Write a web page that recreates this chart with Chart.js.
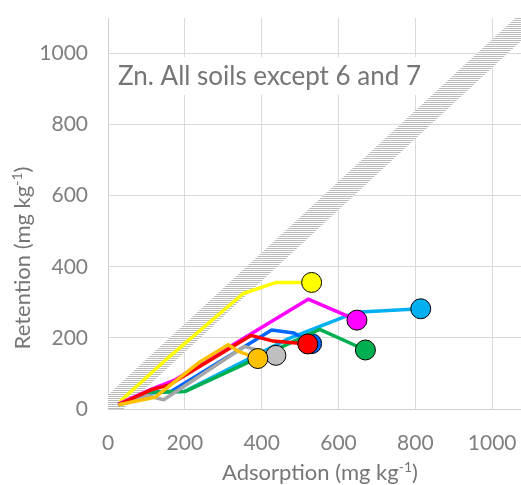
<!DOCTYPE html>
<html>
<head>
<meta charset="utf-8">
<script src="https://cdn.jsdelivr.net/npm/chart.js@4"></script>
<style>
  html, body { margin: 0; padding: 0; background: #fff; }
  #wrap { width: 521px; height: 485px; }
</style>
</head>
<body>
<div id="wrap"><canvas id="myChart" width="521" height="485"></canvas></div>
<script>
// x = adsorption, y = retention (mg kg-1), one pair of arrays per soil
const redX = [27, 115, 160, 372, 430, 520];
const redY = [12, 55, 68, 207, 191, 183];
const magentaX = [27, 112, 175, 521, 648];
const magentaY = [14, 55, 82, 309, 250];
const grayX = [27, 100, 145, 355, 437];
const grayY = [10, 38, 26, 176, 151];
const orangeX = [27, 122, 240, 313, 340, 390];
const orangeY = [12, 33, 133, 181, 162, 142];
const yellowX = [30, 150, 352, 438, 530];
const yellowY = [20, 138, 325, 356, 356];
const greenX = [27, 105, 200, 551, 670];
const greenY = [12, 47, 49, 224, 166];
const blueX = [27, 105, 165, 426, 484, 530];
const blueY = [12, 46, 50, 222, 214, 184];
const cyanX = [27, 105, 200, 470, 645, 814];
const cyanY = [12, 45, 50, 198, 272, 282];

// 1:1 band
const bandX = [0, 1100];
const bandUpper = [40, 1140];
const bandLower = [-40, 1060];

const xTicks = [0, 200, 400, 600, 800, 1000];
const yTicks = [0, 200, 400, 600, 800, 1000];

const chartTitle = "Zn. All soils except 6 and 7";

function pts(xs, ys) {
  return xs.map((x, i) => ({x: x, y: ys[i]}));
}

// hatch pattern for the band (thin horizontal lines)
const pc = document.createElement('canvas');
pc.width = 4; pc.height = 2;
const pctx = pc.getContext('2d');
pctx.fillStyle = '#ffffff';
pctx.fillRect(0, 0, 4, 2);
pctx.fillStyle = '#bababa';
pctx.fillRect(0, 0, 4, 1);
const hatch = pctx.createPattern(pc, 'repeat');

function series(xs, ys, line, marker) {
  const last = xs.length - 1;
  return {
    data: pts(xs, ys),
    borderColor: line,
    backgroundColor: marker || line,
    borderWidth: 3.5,
    borderJoinStyle: 'round',
    pointRadius: c => c.dataIndex === last ? 10 : 0,
    pointBorderColor: '#000',
    pointBorderWidth: 1,
    pointBackgroundColor: marker || line,
    fill: false,
    tension: 0,
    order: 0
  };
}

// no extra padding round the plot
function noPad(s) {
  s.paddingTop = 0; s.paddingBottom = 0; s.paddingLeft = 0; s.paddingRight = 0;
}

// title box + axis titles with superscript
const textPlugin = {
  id: 'texts',
  beforeDatasetsDraw(chart) {
    const ctx = chart.ctx;
    ctx.save();
    ctx.fillStyle = '#fff';
    ctx.fillRect(109, 57, 322, 38);
    ctx.fillStyle = '#767676';
    ctx.font = '26px Lato';
    ctx.textBaseline = 'alphabetic';
    ctx.fillText(chartTitle, 118, 85);
    ctx.restore();
  },
  afterDraw(chart) {
    const ctx = chart.ctx;
    const draw = (main, cx, cy, rot) => {
      ctx.save();
      ctx.translate(cx, cy);
      ctx.rotate(rot);
      ctx.fillStyle = '#767676';
      ctx.textBaseline = 'alphabetic';
      ctx.font = '22px Lato';
      const w1 = ctx.measureText(main).width;
      const w3 = ctx.measureText(')').width;
      ctx.font = '14px Lato';
      const w2 = ctx.measureText('-1').width;
      let x = -(w1 + w2 + w3) / 2;
      ctx.font = '22px Lato';
      ctx.fillText(main, x, 0);
      x += w1;
      ctx.font = '14px Lato';
      ctx.fillText('-1', x, -8);
      x += w2;
      ctx.font = '22px Lato';
      ctx.fillText(')', x, 0);
      ctx.restore();
    };
    draw('Adsorption (mg kg', 320, 480, 0);
    draw('Retention (mg kg', 30, 258, -Math.PI / 2);
  }
};

const myChart = document.getElementById('myChart');

new Chart(myChart, {
  type: 'line',
  data: {
    datasets: [
      series(orangeX, orangeY, '#FFC000'),
      series(redX, redY, '#FF0000'),
      series(magentaX, magentaY, '#FF00FF'),
      series(grayX, grayY, '#A6A6A6', '#BFBFBF'),
      series(yellowX, yellowY, '#FFFF00'),
      series(greenX, greenY, '#00B050'),
      series(blueX, blueY, '#0066FF'),
      series(cyanX, cyanY, '#00B0F0'),
      {
        data: pts(bandX, bandUpper),
        borderWidth: 0,
        pointRadius: 0,
        backgroundColor: hatch,
        fill: '+1',
        order: 10
      },
      {
        data: pts(bandX, bandLower),
        borderWidth: 0,
        pointRadius: 0,
        fill: false,
        order: 11
      }
    ]
  },
  options: {
    responsive: false,
    animation: false,
    devicePixelRatio: 1,
    layout: { autoPadding: false, padding: { top: 18, right: 0, left: 0, bottom: 0 } },
    plugins: { legend: { display: false }, tooltip: { enabled: false } },
    scales: {
      x: {
        type: 'linear',
        min: 0,
        max: 1075,
        afterBuildTicks: s => { s.ticks = xTicks.map(v => ({value: v})); },
        afterFit: s => { s.height = 76; noPad(s); },
        grid: { color: '#d9d9d9', drawTicks: false },
        border: { color: '#d0d0d0' },
        ticks: { padding: 22, color: '#7f7f7f', font: { family: 'Lato', size: 21 }, maxRotation: 0, callback: v => String(v) }
      },
      y: {
        min: 0,
        max: 1100,
        afterBuildTicks: s => { s.ticks = yTicks.map(v => ({value: v})); },
        afterFit: s => { s.width = 108; noPad(s); },
        grid: { color: '#d9d9d9', drawTicks: false },
        border: { color: '#d0d0d0' },
        ticks: { padding: 20, color: '#7f7f7f', font: { family: 'Lato', size: 21 }, callback: v => String(v) }
      }
    }
  },
  plugins: [textPlugin]
});
</script>
</body>
</html>
